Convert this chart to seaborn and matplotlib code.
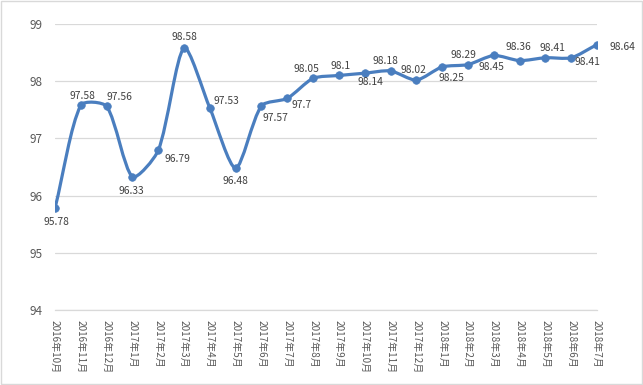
import matplotlib
matplotlib.use("Agg")
import matplotlib.pyplot as plt
import seaborn as sns
import pandas as pd
import numpy as np
from matplotlib.path import Path
from matplotlib.patches import PathPatch, Rectangle

# datos
months = ["2016年10月", "2016年11月", "2016年12月", "2017年1月", "2017年2月", "2017年3月",
          "2017年4月", "2017年5月", "2017年6月", "2017年7月", "2017年8月", "2017年9月",
          "2017年10月", "2017年11月", "2017年12月", "2018年1月", "2018年2月", "2018年3月",
          "2018年4月", "2018年5月", "2018年6月", "2018年7月"]
values = [95.78, 97.58, 97.56, 96.33, 96.79, 98.58, 97.53, 96.48, 97.57, 97.7, 98.05,
          98.1, 98.14, 98.18, 98.02, 98.25, 98.29, 98.45, 98.36, 98.41, 98.41, 98.64]
y_ticks = [94, 95, 96, 97, 98, 99]

# posicion de las etiquetas (desplazamiento en puntos)
label_offsets = [(1, -10), (1, 7), (9, 7), (-1, -10), (14, -6), (0, 8), (12, 5), (0, -9),
                 (10, -9), (10, -5), (-5, 7), (1, 7), (4, -6), (-4, 7), (-2, 7), (7, -8),
                 (-3, 7), (-2, -8), (-1, 10), (5, 7), (12, -3), (18, -2)]

blue = "#4A7EBF"
df = pd.DataFrame({"mes": months, "valor": values})
df["x"] = np.arange(len(df))

sns.set_style("white")
plt.rcParams["font.family"] = ["Noto Sans CJK SC", "DejaVu Sans"]

fig = plt.figure(figsize=(6.43, 3.85), dpi=100)
ax = fig.add_axes([55 / 643, 1 - 310 / 385, (597 - 55) / 643, (310 - 24) / 385])
ax.set_xlim(0, len(months) - 1)
ax.set_ylim(94, 99)

# curva suavizada (Bezier parecido a Excel, calculada en pixeles)
pts = df[["x", "valor"]].to_numpy(dtype=float)
scale = np.array([(597 - 55) / (len(months) - 1), (310 - 24) / 5.0])
P = pts * scale
n = len(P)
k = 0.25
c_in = np.zeros_like(P)
c_out = np.zeros_like(P)
for i in range(n):
    a = P[max(i - 1, 0)]
    b = P[min(i + 1, n - 1)]
    t = b - a
    d01 = np.linalg.norm(P[i] - a)
    d12 = np.linalg.norm(b - P[i])
    if i == 0 or i == n - 1:
        c_out[i] = P[i] + t / 3
        c_in[i] = P[i] - t / 3
        continue
    c_in[i] = P[i] - t * k * d01 / (d01 + d12)
    c_out[i] = P[i] + t * k * d12 / (d01 + d12)
verts = [tuple(pts[0])]
codes = [Path.MOVETO]
for i in range(n - 1):
    verts += [tuple(c_out[i] / scale), tuple(c_in[i + 1] / scale), tuple(pts[i + 1])]
    codes += [Path.CURVE4] * 3
ax.add_patch(PathPatch(Path(verts, codes), facecolor="none", edgecolor=blue,
                       lw=2.3, capstyle="round", joinstyle="round", zorder=3))

sns.scatterplot(data=df, x="x", y="valor", color=blue, s=30, edgecolor=blue,
                linewidth=0.5, zorder=4, ax=ax, legend=False)

for (xi, yi), (dx, dy) in zip(pts, label_offsets):
    ax.annotate(f"{yi:g}", (xi, yi), xytext=(dx, dy), textcoords="offset points",
                ha="center", va="center", fontsize=7.4, color="#404040", zorder=5)

ax.set_yticks(y_ticks)
ax.set_xticks(df["x"])
ax.set_xticklabels(months, rotation=270, fontsize=7.2, color="#595959", va="top", ha="center")
ax.tick_params(axis="y", length=0, labelsize=8.5, labelcolor="#595959", pad=9)
ax.tick_params(axis="x", length=4, color="#D9D9D9", direction="out", pad=3)
ax.grid(axis="y", color="#D9D9D9", lw=0.9)
ax.set_axisbelow(True)
ax.set_xlabel("")
ax.set_ylabel("")
for s in ["top", "right", "left"]:
    ax.spines[s].set_visible(False)
ax.spines["bottom"].set_color("#D9D9D9")
ax.spines["bottom"].set_linewidth(0.9)

# marco del grafico
fig.patches.append(Rectangle((0.001, 0.002), 0.997, 0.995, transform=fig.transFigure,
                             fill=False, edgecolor="#D9D9D9", lw=1))

fig.savefig("out.png", dpi=100)
